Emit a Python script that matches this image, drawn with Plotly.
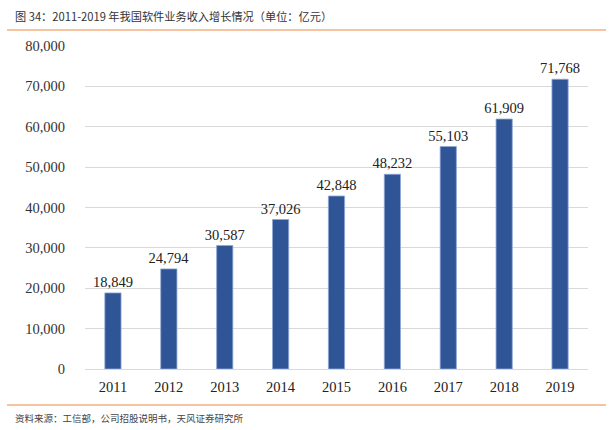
import plotly.graph_objects as go

years = ["2011", "2012", "2013", "2014", "2015", "2016", "2017", "2018", "2019"]
revenue = [18849, 24794, 30587, 37026, 42848, 48232, 55103, 61909, 71768]
y_ticks = [0, 10000, 20000, 30000, 40000, 50000, 60000, 70000, 80000]
y_tick_text = ["0", "10,000", "20,000", "30,000", "40,000", "50,000", "60,000", "70,000", "80,000"]

title_text = "图 34：2011-2019 年我国软件业务收入增长情况（单位：亿元）"
source_text = "资料来源：工信部，公司招股说明书，天风证券研究所"

serif = "Liberation Serif, Times New Roman, serif"
cjk = "Noto Sans CJK SC, sans-serif"

W, H = 612, 430
L, R, T, B = 85, 24, 46, 61
PW, PH = W - L - R, H - T - B


def px_x(x):
    return (x - L) / PW


def px_y(y):
    return (H - B - y) / PH


fig = go.Figure()
fig.add_trace(go.Bar(
    x=years, y=revenue,
    marker=dict(color="#2F5597", line=dict(color="#8FA7D6", width=0.8)),
    width=0.29,
    text=[f"{v:,}" for v in revenue],
    textposition="outside",
    constraintext="none",
    textfont=dict(family=serif, size=14.5, color="#222222"),
    cliponaxis=False,
))

fig.update_layout(
    width=W, height=H,
    margin=dict(l=L, r=R, t=T, b=B),
    paper_bgcolor="white", plot_bgcolor="white",
    showlegend=False,
    xaxis=dict(
        type="category",
        tickfont=dict(family=serif, size=14.5, color="#222222"),
        showgrid=False, showline=False, ticks="",
        ticklabelstandoff=7,
    ),
    yaxis=dict(
        range=[0, 80000],
        tickvals=y_ticks, ticktext=y_tick_text,
        tickfont=dict(family=serif, size=14.5, color="#333333"),
        showgrid=True, gridcolor="#D9D9D9", gridwidth=1,
        zeroline=True, zerolinecolor="#D9D9D9", zerolinewidth=1,
        showline=False, ticks="",
        ticklabelstandoff=19,
    ),
    shapes=[
        dict(type="line", xref="paper", yref="paper",
             x0=px_x(7), x1=px_x(606), y0=px_y(30), y1=px_y(30),
             line=dict(color="#F4B183", width=1.5)),
        dict(type="line", xref="paper", yref="paper",
             x0=px_x(7), x1=px_x(606), y0=px_y(405), y1=px_y(405),
             line=dict(color="#F4B183", width=1.5)),
    ],
    annotations=[
        dict(text=title_text, xref="paper", yref="paper",
             x=px_x(13), y=px_y(16), xanchor="left", yanchor="middle",
             showarrow=False, font=dict(family=cjk, size=11.2, color="#333333")),
        dict(text=source_text, xref="paper", yref="paper",
             x=px_x(13), y=px_y(418), xanchor="left", yanchor="middle",
             showarrow=False, font=dict(family=cjk, size=9.5, color="#444444")),
    ],
)

fig.write_html(
    "out.html",
    config={"displayModeBar": False},
    post_script="document.body.style.margin='0';document.body.style.padding='0';",
)
